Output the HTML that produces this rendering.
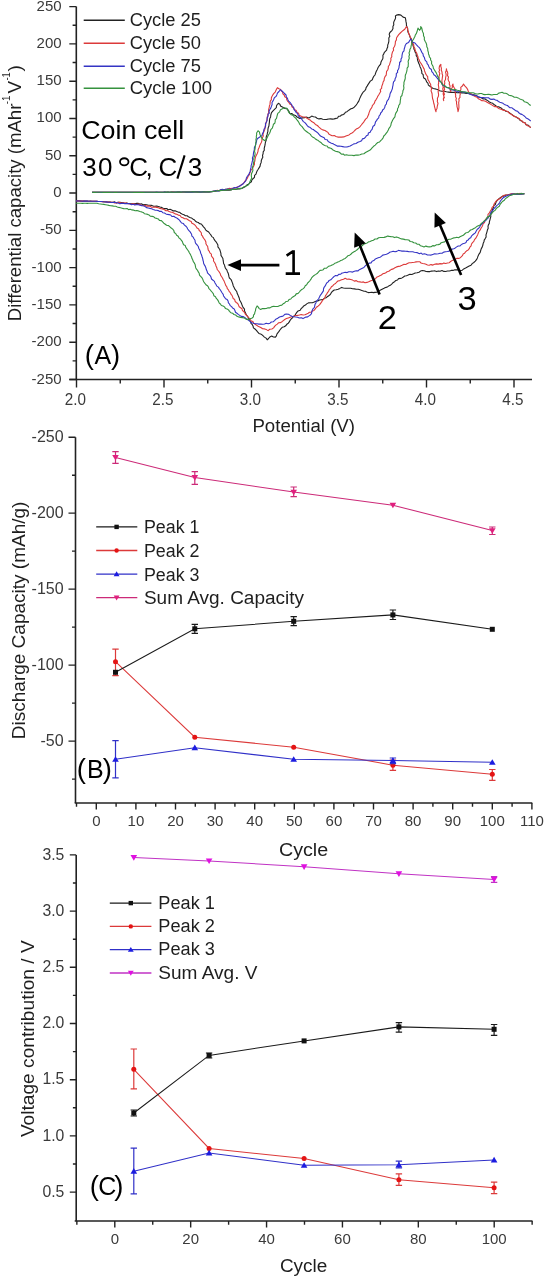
<!DOCTYPE html>
<html><head><meta charset="utf-8"><style>
html,body{margin:0;padding:0;background:#fff;}
svg{display:block;will-change:transform;}
text{font-family:"Liberation Sans", sans-serif;}
.tk{font-size:15px;fill:#3a3a3a;}
.lb{font-size:18px;fill:#1e1e1e;}
.lg{font-size:17.6px;fill:#1e1e1e;}
.cal{fill:#000;}
</style></head><body>
<svg width="545" height="1280" viewBox="0 0 545 1280">
<rect width="545" height="1280" fill="#fff"/>
<path d="M76.3,6.6 V379.5" stroke="#222" stroke-width="1.6" fill="none"/>
<path d="M69.3,379.5 H532" stroke="#222" stroke-width="1.6" fill="none"/>
<path d="M69.3,6.60H76.3M72.6,25.25H76.3M69.3,43.89H76.3M72.6,62.53H76.3M69.3,81.18H76.3M72.6,99.83H76.3M69.3,118.47H76.3M72.6,137.12H76.3M69.3,155.76H76.3M72.6,174.41H76.3M69.3,193.05H76.3M72.6,211.70H76.3M69.3,230.34H76.3M72.6,248.99H76.3M69.3,267.63H76.3M72.6,286.28H76.3M69.3,304.92H76.3M72.6,323.57H76.3M69.3,342.21H76.3M72.6,360.86H76.3M69.3,379.50H76.3M76.50,379.5V387.5M120.25,379.5V383.5M164.00,379.5V387.5M207.75,379.5V383.5M251.50,379.5V387.5M295.25,379.5V383.5M339.00,379.5V387.5M382.75,379.5V383.5M426.50,379.5V387.5M470.25,379.5V383.5M514.00,379.5V387.5" stroke="#222" stroke-width="1.4" fill="none"/>
<text x="61.6" y="10.60" text-anchor="end" class="tk">250</text>
<text x="61.6" y="47.89" text-anchor="end" class="tk">200</text>
<text x="61.6" y="85.18" text-anchor="end" class="tk">150</text>
<text x="61.6" y="122.47" text-anchor="end" class="tk">100</text>
<text x="61.6" y="159.76" text-anchor="end" class="tk">50</text>
<text x="61.6" y="197.05" text-anchor="end" class="tk">0</text>
<text x="61.6" y="234.34" text-anchor="end" class="tk">-50</text>
<text x="61.6" y="271.63" text-anchor="end" class="tk">-100</text>
<text x="61.6" y="308.92" text-anchor="end" class="tk">-150</text>
<text x="61.6" y="346.21" text-anchor="end" class="tk">-200</text>
<text x="61.6" y="383.50" text-anchor="end" class="tk">-250</text>
<text x="75.40" y="404.7" text-anchor="middle" class="tk" style="font-size:15.6px" textLength="21.2" lengthAdjust="spacingAndGlyphs">2.0</text>
<text x="162.90" y="404.7" text-anchor="middle" class="tk" style="font-size:15.6px" textLength="21.2" lengthAdjust="spacingAndGlyphs">2.5</text>
<text x="250.40" y="404.7" text-anchor="middle" class="tk" style="font-size:15.6px" textLength="21.2" lengthAdjust="spacingAndGlyphs">3.0</text>
<text x="337.90" y="404.7" text-anchor="middle" class="tk" style="font-size:15.6px" textLength="21.2" lengthAdjust="spacingAndGlyphs">3.5</text>
<text x="425.40" y="404.7" text-anchor="middle" class="tk" style="font-size:15.6px" textLength="21.2" lengthAdjust="spacingAndGlyphs">4.0</text>
<text x="512.90" y="404.7" text-anchor="middle" class="tk" style="font-size:15.6px" textLength="21.2" lengthAdjust="spacingAndGlyphs">4.5</text>
<text x="252.4" y="432" class="lb" textLength="102.6" lengthAdjust="spacingAndGlyphs">Potential (V)</text>
<text transform="translate(20.9,321.2) rotate(-90)" class="lb" style="font-size:19px" textLength="217.6" lengthAdjust="spacingAndGlyphs">Differential capacity (mAhr</text>
<text transform="translate(10.2,104.2) rotate(-90)" class="lb" style="font-size:10.5px" textLength="8.6" lengthAdjust="spacingAndGlyphs">-1</text>
<text transform="translate(20.9,93.6) rotate(-90)" class="lb" style="font-size:19px" textLength="12.6" lengthAdjust="spacingAndGlyphs">V</text>
<text transform="translate(10.2,80.6) rotate(-90)" class="lb" style="font-size:10.5px" textLength="8.2" lengthAdjust="spacingAndGlyphs">-1</text>
<text transform="translate(20.9,71.4) rotate(-90)" class="lb" style="font-size:19px" textLength="6.4" lengthAdjust="spacingAndGlyphs">)</text>
<polyline points="76.0,200.9 77.6,200.9 79.2,200.9 80.8,201.1 82.4,201.0 84.0,201.1 85.6,201.1 87.2,201.1 88.8,201.2 90.4,201.1 92.0,201.3 93.6,201.2 95.2,201.3 96.8,201.4 98.4,201.5 100.0,201.5 101.6,201.5 103.3,201.6 104.9,201.8 106.5,202.0 108.1,202.0 109.8,202.1 111.4,202.3 113.0,202.3 114.7,201.9 116.4,202.9 118.1,202.4 119.8,202.4 121.5,202.5 123.2,202.8 124.9,203.5 126.6,202.9 128.3,203.5 130.0,203.5 131.7,203.7 133.3,203.5 135.0,203.8 136.7,203.4 138.4,203.4 140.0,204.0 141.7,203.9 143.3,204.7 145.0,204.6 146.7,204.7 148.3,205.2 150.0,205.3 151.7,205.4 153.3,206.1 154.9,206.3 156.7,206.0 158.3,206.5 160.0,207.0 161.6,207.4 163.2,208.3 164.9,208.6 166.7,208.5 168.2,209.7 170.1,209.3 171.7,210.0 173.3,210.9 175.1,210.7 176.7,211.5 178.2,212.1 179.8,212.3 181.0,213.6 182.5,214.3 184.0,214.8 185.4,215.7 187.1,215.8 188.4,216.8 189.9,217.4 191.4,217.9 192.7,218.9 194.2,219.7 195.3,221.0 196.6,222.0 198.3,222.5 199.5,223.6 201.3,224.0 202.4,225.3 203.5,226.8 204.7,228.1 205.6,229.8 207.0,231.0 208.7,232.0 209.7,233.5 210.9,234.9 211.8,236.6 213.4,237.6 214.1,239.4 215.2,240.9 216.3,242.2 217.1,243.6 217.9,245.1 217.9,246.9 218.9,248.2 219.9,249.8 220.4,251.6 220.9,253.4 221.0,255.4 222.0,257.0 222.9,258.5 223.1,260.2 223.4,261.8 223.6,263.5 224.5,265.0 224.9,266.8 225.5,268.4 226.8,269.8 227.3,271.4 228.1,273.0 228.6,274.7 228.9,276.4 229.4,278.0 230.9,279.3 231.6,280.8 232.2,282.4 232.8,284.0 233.2,285.7 234.0,287.3 234.7,288.9 235.8,290.3 236.8,291.7 237.2,293.5 238.0,295.1 238.7,296.7 239.3,298.3 239.6,300.0 240.5,301.5 241.3,303.0 241.9,304.6 242.5,306.2 243.3,307.7 244.5,309.1 244.5,311.0 245.4,312.6 246.1,314.2 246.9,315.7 248.1,317.1 248.8,318.7 249.7,320.2 250.7,321.6 251.0,323.4 252.3,324.6 253.1,326.2 253.4,327.9 255.0,329.0 256.4,330.4 257.6,331.9 258.9,333.4 260.5,333.9 262.0,334.8 263.2,335.9 264.4,337.1 266.1,338.1 267.2,339.8 268.6,338.5 269.9,336.9 271.7,336.1 273.4,337.0 275.4,337.1 276.4,335.8 276.9,334.1 278.0,332.7 279.0,331.4 279.9,330.0 281.0,328.7 282.2,327.3 284.2,326.8 285.7,325.8 286.8,324.3 288.3,323.2 289.3,321.9 290.1,320.3 291.1,319.0 292.4,317.8 293.4,316.5 294.9,315.5 295.7,314.0 296.8,312.4 298.1,310.9 300.2,310.2 301.2,308.5 302.6,307.4 303.7,305.9 305.4,305.1 306.7,303.9 308.4,302.9 310.4,302.8 312.4,302.8 314.2,302.1 315.9,301.2 317.8,301.0 319.5,300.0 321.3,299.7 323.2,299.4 324.4,298.2 326.1,297.8 327.3,296.7 328.7,295.7 330.3,294.5 331.3,292.7 332.6,291.2 334.2,290.0 336.2,289.7 338.1,289.2 339.9,288.4 341.6,287.4 343.4,288.0 345.2,288.2 347.0,288.3 348.9,288.3 350.8,288.3 352.5,288.8 354.4,288.9 356.2,289.3 358.2,289.2 360.0,289.7 361.8,290.4 363.6,291.1 365.3,291.2 366.8,292.0 368.3,292.6 370.0,292.5 371.7,292.2 373.4,292.6 375.0,292.4 376.7,292.2 378.3,291.5 379.7,290.6 381.1,289.8 382.6,289.0 384.0,288.3 385.5,287.5 387.1,287.1 388.6,286.1 390.3,285.3 391.7,284.1 393.0,282.7 394.5,281.7 395.9,280.5 397.5,280.0 398.6,278.6 400.4,278.4 402.0,277.9 403.4,277.0 404.7,276.0 406.5,275.8 408.2,275.1 409.9,274.3 411.8,274.5 413.5,273.8 415.2,273.0 417.1,272.8 419.0,272.3 420.5,271.1 422.3,270.5 424.2,270.7 426.1,271.5 428.0,271.6 430.0,271.6 431.6,271.1 433.3,271.0 435.0,270.9 436.7,271.6 438.3,271.0 440.1,271.3 442.0,270.6 443.8,271.4 445.7,271.5 447.5,271.0 449.4,271.0 451.2,270.4 453.0,270.4 454.8,269.7 456.7,269.9 458.5,269.8 460.0,270.7 462.1,270.3 463.7,268.9 465.6,268.1 467.4,267.1 469.2,266.1 471.0,265.3 472.2,263.6 473.8,262.5 475.3,261.2 476.5,259.7 477.4,257.9 478.1,255.9 479.0,254.1 480.2,252.4 480.7,250.5 481.3,248.6 482.3,246.9 482.9,245.0 483.2,243.3 484.0,241.8 484.2,240.1 485.2,238.6 486.1,236.9 486.0,234.9 486.6,233.1 487.1,231.3 487.5,229.7 488.2,228.2 488.0,226.5 488.4,224.9 489.3,223.4 489.4,221.7 489.9,220.0 490.3,218.4 490.8,216.6 490.7,214.6 491.7,212.9 492.2,211.0 492.6,209.1 493.5,207.4 493.8,205.6 495.3,204.5 495.8,202.8 496.9,200.8 498.5,199.2 500.3,197.8 502.2,196.4 504.1,195.9 505.9,195.0 508.0,194.8 510.0,194.4 512.0,194.0 514.0,194.0 515.7,194.0 517.5,194.0 519.2,194.2 520.9,193.4 522.7,193.8 524.4,193.7" stroke="#222" stroke-width="1.1" fill="none" stroke-linejoin="round"/>
<polyline points="76.0,200.9 77.6,200.9 79.2,200.9 80.8,201.1 82.4,201.1 84.0,201.1 85.6,201.2 87.2,201.3 88.8,201.2 90.4,201.3 92.0,201.3 93.6,201.3 95.2,201.4 96.8,201.4 98.4,201.5 100.0,201.5 101.6,201.6 103.2,201.8 104.9,201.8 106.5,202.0 108.1,202.1 109.8,202.0 111.4,202.2 113.0,202.3 114.6,202.9 116.3,203.0 118.1,202.3 119.8,202.5 121.4,203.0 123.2,202.7 124.8,203.0 126.5,203.0 128.2,203.8 129.8,204.0 131.5,204.3 133.3,203.6 134.9,204.4 136.6,204.5 138.3,204.1 140.0,204.6 141.6,205.3 143.2,205.7 145.0,205.2 146.6,206.3 148.3,205.9 150.0,206.3 151.6,207.2 153.2,207.3 155.0,206.9 156.6,207.4 158.3,207.8 159.8,208.4 161.4,208.7 163.0,209.1 164.5,209.8 165.9,210.7 167.7,210.6 169.0,211.6 170.6,212.1 172.3,212.2 173.7,213.0 175.1,213.9 176.7,214.3 178.3,215.1 180.1,215.5 181.3,217.2 183.0,217.8 184.5,218.8 186.5,218.7 188.0,219.7 189.5,220.7 191.2,221.5 191.9,223.3 193.6,224.0 195.0,225.1 196.1,226.5 197.1,228.1 198.7,228.9 199.2,230.5 200.5,231.7 201.4,233.0 201.4,234.9 202.6,236.2 203.2,237.7 204.2,239.0 205.2,240.4 205.9,241.9 205.9,243.7 206.7,245.1 207.7,246.5 207.9,248.2 208.2,249.9 209.3,251.3 209.9,252.9 211.4,254.1 211.4,256.0 212.5,257.4 213.6,258.9 213.5,261.0 214.6,262.5 215.5,264.2 216.0,266.0 216.8,267.7 217.2,269.5 218.5,271.0 219.5,272.4 220.3,273.8 220.7,275.4 221.7,276.8 222.6,278.2 223.3,279.7 224.1,281.1 224.7,282.6 225.3,284.1 225.9,285.7 226.9,287.0 227.3,288.7 228.5,289.9 229.1,291.4 230.3,292.6 230.9,294.1 232.0,295.4 232.6,296.9 233.2,298.5 234.7,299.5 235.1,301.3 236.3,302.5 237.7,303.5 238.5,305.1 239.2,306.7 240.6,307.7 242.0,308.7 242.4,310.5 243.8,311.6 244.8,313.0 245.5,314.5 246.9,315.5 247.9,316.9 249.1,318.1 250.2,319.5 251.2,320.9 252.9,321.6 253.7,323.2 255.2,324.2 256.6,325.3 258.1,326.2 259.7,326.9 261.2,327.7 262.6,328.8 264.6,328.9 266.4,329.6 268.1,330.6 269.7,329.3 271.9,329.0 273.6,327.9 274.6,326.4 275.8,325.1 277.3,324.1 278.5,322.8 280.5,322.6 282.0,321.7 283.3,320.6 284.7,319.5 286.4,318.6 288.3,317.9 290.1,317.3 292.0,316.8 293.8,316.3 295.6,315.5 297.5,315.4 299.4,315.0 301.2,314.5 303.1,315.0 304.9,314.8 306.7,314.0 308.2,313.3 309.5,312.3 311.3,312.3 312.4,310.9 314.0,310.4 315.3,308.9 316.4,307.3 318.0,306.2 319.5,304.9 320.6,303.4 321.7,301.9 322.5,300.3 323.9,299.0 325.0,297.5 325.5,295.7 326.6,294.3 327.4,292.7 328.6,291.3 329.2,289.6 330.6,288.3 331.4,286.7 332.9,285.7 334.0,284.4 335.5,283.5 336.7,282.2 337.9,281.0 339.8,280.6 341.6,279.8 343.5,279.2 345.2,278.3 347.0,279.2 348.9,279.1 350.8,279.5 352.6,280.1 354.3,281.1 356.3,280.6 358.0,281.7 359.9,281.9 361.6,282.3 363.4,281.9 365.0,282.7 366.9,282.4 368.7,281.8 370.3,280.9 372.1,280.3 373.8,279.4 375.5,278.8 376.6,277.2 378.3,276.6 379.7,275.7 381.4,275.0 382.7,273.8 384.3,273.4 385.8,272.7 387.1,271.7 388.8,271.3 390.1,270.3 391.5,269.4 393.3,268.9 394.9,267.8 396.6,266.9 398.4,266.4 400.3,266.1 402.0,265.3 403.7,264.4 405.7,264.5 407.4,263.5 409.1,262.8 410.9,262.7 412.6,262.5 414.4,262.3 416.1,261.9 417.9,261.7 419.7,261.7 421.0,263.0 422.7,263.5 424.4,263.8 426.0,264.3 427.5,265.0 429.2,265.3 431.0,264.6 432.9,265.1 434.6,264.3 436.4,263.9 438.3,264.1 440.1,263.6 442.0,263.9 443.8,263.1 445.7,263.5 447.5,263.0 449.3,262.7 450.6,261.5 452.0,260.6 453.6,259.9 455.3,259.3 456.7,258.4 458.4,258.4 460.0,257.9 461.2,256.8 462.4,255.7 463.1,254.1 464.6,253.3 465.5,251.9 466.7,250.8 468.2,250.0 469.2,248.7 469.9,247.1 471.1,245.8 471.5,244.0 472.5,242.6 473.8,241.4 474.5,239.6 475.8,238.2 476.7,236.5 477.6,234.9 478.3,233.1 479.0,231.4 480.2,229.9 481.0,228.3 482.0,226.7 482.7,225.2 483.1,223.6 484.6,222.5 484.7,220.7 485.7,219.4 487.1,218.0 488.0,216.4 488.0,214.3 489.4,212.9 490.3,211.0 491.5,209.4 492.1,207.4 493.5,206.1 493.9,204.3 494.9,202.8 495.9,201.4 497.1,200.2 498.5,199.2 500.6,198.2 502.2,196.4 503.9,195.4 505.9,195.0 508.0,194.8 510.0,194.4 512.0,193.8 514.0,194.0 515.7,194.0 517.5,194.4 519.2,193.4 520.9,194.2 522.7,193.8 524.4,193.7" stroke="#dc3a3a" stroke-width="1.1" fill="none" stroke-linejoin="round"/>
<polyline points="76.0,200.9 77.6,201.0 79.2,201.0 80.8,201.0 82.4,201.2 84.0,201.1 85.6,201.0 87.2,201.1 88.8,201.2 90.4,201.2 92.0,201.3 93.6,201.3 95.2,201.3 96.8,201.4 98.4,201.5 100.0,201.5 101.6,201.5 103.2,201.8 104.9,202.0 106.5,201.9 108.1,202.2 109.7,202.3 111.4,202.5 113.0,202.5 114.7,202.4 116.4,202.7 118.1,202.9 119.7,203.7 121.4,203.4 123.1,203.3 124.8,203.6 126.5,203.6 128.2,203.5 129.9,203.7 131.5,204.7 133.3,204.2 134.9,205.1 136.7,204.5 138.3,204.7 140.0,205.1 141.7,205.6 143.4,205.8 145.0,206.5 146.5,207.6 148.2,208.0 149.9,208.4 151.6,208.7 153.2,209.5 154.8,210.1 156.6,210.2 158.3,210.6 159.7,211.4 161.5,211.4 162.8,212.7 164.5,213.0 165.9,213.9 167.4,214.4 169.1,214.6 170.7,215.0 171.9,216.5 173.8,216.3 175.2,217.3 176.7,217.9 178.1,219.0 179.5,220.1 180.5,221.7 181.6,223.0 183.4,223.6 184.5,225.1 185.9,226.2 187.0,227.5 187.7,229.0 188.7,230.3 189.9,231.5 190.8,232.9 191.6,234.3 191.9,236.1 193.2,237.2 194.0,238.8 195.0,240.2 195.2,242.1 195.9,243.7 197.2,245.0 198.3,246.5 198.7,248.2 199.6,249.8 200.3,251.4 200.7,253.2 201.5,254.8 202.0,256.5 202.6,258.2 202.9,260.0 203.4,261.6 203.6,263.3 204.4,264.9 205.3,266.4 205.9,268.0 206.3,269.6 207.1,271.2 207.5,272.8 208.7,274.2 210.1,275.5 211.0,277.1 211.5,279.0 213.0,280.2 214.4,281.4 215.0,283.0 216.0,284.5 216.8,286.1 218.4,287.1 219.3,288.6 220.4,290.0 221.3,291.5 222.2,293.0 223.2,294.3 223.6,296.0 224.6,297.3 225.5,298.7 227.2,299.6 228.1,301.0 228.4,302.8 229.5,304.0 230.2,305.6 231.6,306.6 232.6,308.0 234.2,308.9 234.9,310.5 235.5,312.2 236.9,313.2 238.2,314.4 239.7,315.4 241.2,316.4 243.1,316.6 244.7,317.4 246.0,318.7 247.7,319.3 248.9,320.6 250.3,321.6 251.7,322.8 253.4,323.3 255.2,323.7 257.1,323.8 258.9,324.1 260.8,324.0 262.6,324.2 264.5,324.0 266.2,323.2 268.2,323.8 270.0,323.2 271.3,322.0 273.2,321.8 274.5,320.6 275.7,319.3 277.3,318.6 278.7,317.5 280.2,316.8 282.0,316.4 283.5,315.7 284.8,314.4 286.5,314.0 288.5,314.3 290.2,315.4 292.0,316.2 293.9,316.8 295.7,317.0 297.6,317.2 299.3,318.0 301.3,317.7 303.0,318.6 304.4,317.7 305.9,317.1 307.7,316.9 309.0,315.9 310.4,315.0 311.5,313.7 311.8,312.0 312.2,310.4 312.9,308.9 314.3,307.7 314.7,306.1 315.0,304.4 315.9,303.0 316.4,301.2 317.7,300.0 318.8,298.5 319.5,296.9 320.3,295.3 321.4,293.9 322.4,292.4 323.4,290.9 323.5,289.0 324.1,287.3 325.2,285.9 326.0,284.3 326.9,282.8 328.2,281.9 329.1,280.4 330.8,279.8 331.9,278.7 333.0,277.5 334.2,276.4 335.6,275.5 337.5,275.7 338.7,274.4 340.5,274.3 341.8,273.1 343.4,272.8 345.2,272.2 347.1,272.6 348.8,271.8 350.7,271.8 352.6,272.1 354.4,271.3 356.2,270.8 358.1,270.9 359.3,269.7 360.8,268.9 362.3,268.2 363.9,267.5 365.0,266.1 366.3,264.9 367.9,264.2 369.2,263.1 371.1,262.9 372.1,261.2 373.8,260.6 375.0,259.3 376.5,258.4 378.2,257.8 380.0,257.3 381.4,256.4 382.7,255.1 384.5,254.7 386.4,254.3 388.1,253.6 389.7,252.3 391.5,251.8 393.2,251.2 395.1,251.8 396.8,251.4 398.5,250.4 400.3,250.7 402.0,251.1 403.8,251.0 405.6,251.2 407.4,251.4 409.1,251.8 410.9,251.7 412.7,251.7 414.4,252.2 416.2,252.5 417.9,252.9 419.4,253.7 421.2,253.1 422.6,254.3 424.4,253.8 426.0,254.2 427.5,255.0 429.2,255.0 431.1,255.1 432.8,254.4 434.6,253.8 436.5,254.0 438.3,253.8 440.1,253.2 442.1,253.3 443.7,252.1 445.6,251.8 447.5,251.5 449.2,251.1 450.3,249.5 452.1,249.1 453.8,248.7 455.3,247.9 456.7,246.9 458.2,246.0 460.0,246.0 461.3,244.6 462.8,243.7 464.6,243.2 466.1,242.4 466.7,240.7 468.2,239.9 469.2,238.6 470.7,237.8 471.4,236.2 472.5,235.0 473.8,234.0 475.3,232.9 476.1,231.3 477.0,229.7 478.3,228.5 479.6,227.3 480.4,225.6 481.6,224.2 482.9,223.0 483.8,221.4 485.6,220.8 486.6,219.4 487.9,218.3 488.6,216.7 489.8,215.5 490.3,213.9 491.2,211.7 493.0,210.2 494.0,208.5 495.4,207.1 496.7,205.6 498.3,204.4 499.6,202.8 500.4,201.0 501.5,199.7 502.6,198.3 504.0,197.3 505.5,196.5 507.1,195.8 508.6,195.0 510.5,195.1 512.1,194.0 514.0,194.0 515.7,194.3 517.5,194.2 519.2,194.2 520.9,194.1 522.7,193.9 524.4,193.7" stroke="#3434c4" stroke-width="1.1" fill="none" stroke-linejoin="round"/>
<polyline points="76.0,203.3 77.6,203.3 79.2,203.3 80.8,203.3 82.5,203.4 84.1,203.2 85.7,203.2 87.3,203.4 88.9,203.2 90.5,203.2 92.2,203.2 93.8,203.3 95.4,203.3 97.0,203.3 98.7,203.7 100.4,204.0 102.1,204.3 103.8,204.4 105.5,204.7 107.2,205.0 108.9,205.4 110.6,205.7 112.3,205.9 114.0,206.3 115.7,206.3 117.3,206.9 118.8,207.4 120.5,207.8 122.1,208.2 123.7,208.6 125.3,208.8 127.1,208.5 128.6,209.6 130.3,209.3 131.9,209.9 133.5,210.1 135.1,210.8 136.8,210.5 138.4,210.9 140.0,211.5 141.6,211.9 143.2,212.4 144.4,213.7 146.1,214.0 147.7,214.4 149.2,215.1 150.5,216.3 152.2,216.4 153.8,216.8 155.1,218.0 156.7,218.4 158.3,218.9 159.4,220.4 161.4,220.6 162.6,221.9 163.8,223.2 165.3,224.3 166.6,225.3 168.6,225.6 169.9,226.8 171.2,228.0 172.7,229.1 173.8,230.5 174.3,232.5 175.7,233.6 176.6,235.2 178.2,236.2 178.9,237.9 180.4,239.0 181.4,240.3 182.4,241.6 182.9,243.3 183.6,244.8 185.3,245.6 185.8,247.3 186.7,248.7 187.7,250.0 188.7,251.3 189.3,252.8 190.2,254.1 190.9,255.6 191.6,257.0 192.0,258.6 192.8,260.0 193.3,261.6 194.3,262.9 195.1,264.4 195.4,266.1 195.7,267.7 196.5,269.2 197.6,270.4 198.3,271.9 199.2,273.3 199.5,275.1 200.6,276.3 201.8,277.5 202.6,278.9 203.2,280.5 203.9,282.0 204.9,283.3 205.9,284.7 207.4,285.7 208.4,287.0 208.9,288.7 210.2,289.8 211.2,291.2 212.4,292.5 213.4,293.9 213.9,295.8 215.5,296.8 216.3,298.4 217.5,299.6 218.4,301.1 219.1,302.8 220.4,304.0 221.4,305.5 223.1,306.0 224.5,306.9 225.4,308.4 227.1,309.0 228.5,309.9 229.5,311.4 230.8,312.7 232.6,313.2 233.9,314.5 235.7,315.0 237.0,316.3 238.7,316.9 240.6,317.4 242.5,317.6 244.4,318.0 246.0,319.1 247.9,319.6 249.8,318.8 251.8,318.2 253.4,316.9 253.5,315.2 254.6,313.8 254.9,312.1 255.5,310.6 255.7,308.9 256.3,307.4 257.1,305.9 258.3,307.1 259.2,308.6 260.7,309.5 262.4,308.6 264.4,308.6 266.3,308.5 268.1,307.7 270.0,307.9 271.7,306.8 273.5,306.4 275.4,306.5 277.8,306.5 280.0,305.5 281.8,305.1 283.1,303.8 284.7,303.0 285.9,301.5 287.9,301.2 289.0,299.6 290.8,299.0 292.0,297.5 293.6,296.5 295.2,295.6 296.2,293.9 298.1,293.4 299.4,292.0 300.4,290.6 301.8,289.5 303.3,288.6 304.5,287.4 305.2,285.7 306.7,284.7 307.5,283.2 308.7,282.0 309.8,280.8 310.8,279.4 311.6,277.9 312.7,276.6 314.0,275.5 315.8,274.4 317.5,273.2 318.8,271.6 320.0,270.4 321.8,270.2 323.3,269.7 324.4,268.2 326.3,268.3 327.6,267.2 328.9,266.1 330.6,265.8 332.0,265.0 333.5,264.4 334.8,263.3 336.4,262.8 337.8,262.0 339.4,261.4 340.8,260.5 342.3,260.0 343.7,259.1 345.2,258.4 346.6,257.2 347.8,255.8 349.7,255.2 351.1,254.0 352.4,252.7 354.0,251.8 355.6,250.9 357.1,249.8 358.4,248.5 359.7,247.1 361.3,246.3 362.8,245.2 364.1,244.1 365.6,243.4 367.2,242.9 368.5,241.9 370.1,241.5 371.6,240.8 373.4,240.2 375.0,239.0 377.0,239.0 378.6,237.7 380.5,237.5 382.3,237.5 384.1,237.4 385.8,236.9 387.5,236.1 389.3,236.4 391.1,236.6 392.8,236.7 394.5,237.6 396.4,236.9 398.1,237.5 399.8,238.3 401.5,238.9 403.3,239.1 405.1,239.6 406.9,239.7 408.8,240.0 410.2,241.5 412.2,241.7 413.8,242.8 415.7,243.0 417.1,244.2 419.2,244.3 420.5,245.8 422.3,246.3 424.0,246.9 425.8,246.1 427.5,246.6 429.2,246.9 431.1,246.7 432.7,245.6 434.8,245.9 436.4,244.8 438.3,244.6 440.0,244.1 441.2,242.7 442.9,242.3 444.6,241.9 445.8,240.5 447.5,240.0 449.0,239.3 450.6,239.2 452.1,238.6 453.6,237.9 455.2,237.7 456.8,237.2 458.6,237.7 460.0,236.8 461.6,236.0 463.3,235.3 464.6,234.0 465.9,232.8 467.8,232.5 469.2,231.3 470.5,230.0 472.3,229.5 473.8,228.5 475.4,227.7 476.7,226.6 478.3,225.8 480.1,224.9 481.4,223.4 482.9,222.1 484.2,220.9 485.7,219.9 486.6,218.4 487.5,216.9 489.4,216.4 490.3,214.8 491.6,213.7 492.6,212.3 493.9,211.1 495.4,210.1 496.2,208.5 497.6,207.4 499.3,206.2 500.1,204.4 501.3,202.8 502.4,201.5 504.0,200.6 505.0,199.2 506.8,197.7 508.6,196.4 510.2,195.4 512.0,195.0 514.0,194.0 515.7,194.2 517.5,193.4 519.2,194.2 520.9,193.5 522.7,193.9 524.4,193.7" stroke="#35923e" stroke-width="1.1" fill="none" stroke-linejoin="round"/>
<polyline points="92.0,192.3 93.6,192.4 95.2,192.3 96.8,192.3 98.4,192.3 100.1,192.2 101.7,192.2 103.3,192.2 104.9,192.3 106.5,192.3 108.1,192.3 109.7,192.4 111.3,192.2 112.9,192.2 114.6,192.3 116.2,192.2 117.8,192.2 119.4,192.3 121.0,192.2 122.6,192.3 124.2,192.2 125.8,192.3 127.4,192.3 129.1,192.2 130.7,192.3 132.3,192.3 133.9,192.2 135.5,192.4 137.1,192.2 138.7,192.2 140.3,192.2 141.9,192.3 143.6,192.4 145.2,192.4 146.8,192.3 148.4,192.2 150.0,192.3 151.6,192.2 153.3,192.3 154.9,192.3 156.6,192.2 158.2,192.3 159.8,192.2 161.5,192.3 163.1,192.3 164.7,192.1 166.4,192.3 168.0,192.1 169.7,192.2 171.3,192.1 172.9,192.1 174.6,192.0 176.2,192.2 177.9,192.0 179.5,192.1 181.1,192.2 182.8,192.0 184.4,192.0 186.1,192.1 187.7,192.0 189.3,192.1 191.0,192.1 192.6,191.9 194.2,192.0 195.9,191.9 197.5,191.9 199.2,192.1 200.8,192.0 202.4,192.0 204.1,191.8 205.7,192.0 207.4,192.0 209.0,191.9 210.7,191.7 212.3,191.6 214.0,191.3 215.7,191.1 217.3,190.5 219.0,190.5 220.6,190.1 222.3,190.2 224.0,190.2 225.7,190.3 227.4,190.1 229.2,190.1 230.9,189.9 232.6,189.2 234.3,189.4 236.0,189.2 237.9,188.9 239.8,189.0 241.7,188.5 243.6,187.5 245.5,186.5 246.8,185.1 248.5,184.2 249.9,182.9 251.4,181.7 251.9,179.8 253.2,178.5 254.5,177.3 254.6,175.3 256.0,174.1 256.5,172.4 257.2,170.7 258.2,169.2 259.2,167.6 260.1,166.1 260.4,164.2 261.2,162.4 261.3,160.5 262.0,158.7 262.8,157.2 262.5,155.4 263.1,153.8 263.2,151.9 264.3,150.2 264.2,148.3 264.7,146.5 265.1,144.7 265.3,142.8 265.8,141.2 266.4,139.6 266.1,137.9 266.4,136.3 267.1,134.7 267.4,133.0 267.9,131.4 267.9,129.7 268.2,127.8 268.9,126.0 269.1,124.2 269.4,122.3 269.5,120.4 269.8,118.6 270.6,116.9 270.8,115.0 271.5,112.7 273.0,110.8 275.0,108.8 276.3,107.7 276.5,105.8 277.3,104.4 278.7,103.3 280.0,104.4 280.5,106.0 283.3,107.4 284.9,108.5 286.9,108.8 288.0,110.2 289.1,111.6 289.7,113.3 291.7,113.5 293.3,114.7 295.4,115.4 297.0,117.0 299.8,118.4 302.5,117.9 304.4,117.7 306.2,117.0 309.0,117.9 310.4,117.1 311.7,116.1 313.5,116.8 315.4,117.0 317.1,118.2 319.0,118.9 320.9,118.6 322.7,119.3 325.0,119.5 326.8,119.4 328.7,119.0 330.5,118.9 332.4,119.1 334.2,118.9 336.0,118.4 337.6,117.9 338.5,116.3 340.3,116.2 341.5,115.0 343.1,114.6 344.5,113.8 345.4,112.2 347.0,111.7 348.2,110.6 349.5,109.7 350.9,108.8 352.5,108.4 354.2,107.2 355.7,105.7 356.9,104.0 357.9,102.4 358.9,100.9 359.5,99.1 360.2,97.4 361.1,95.6 362.0,93.9 363.1,92.2 364.6,90.8 365.7,89.4 366.1,87.6 367.1,86.1 368.0,84.6 369.0,83.1 370.3,81.1 372.3,79.8 372.9,78.0 373.7,76.4 375.0,75.0 375.6,73.2 376.3,71.2 377.3,69.4 378.1,67.5 379.2,65.8 380.6,64.2 381.0,62.1 381.9,60.3 382.8,58.8 383.0,57.1 382.9,55.3 383.8,53.9 384.4,52.3 386.6,50.1 387.0,48.4 387.7,46.9 387.7,45.1 388.3,43.5 388.8,41.7 388.9,39.8 388.8,38.0 389.8,36.2 389.2,34.3 389.9,32.5 392.1,30.3 393.0,28.6 392.9,26.5 393.8,24.8 393.6,22.9 394.1,21.2 395.0,19.6 395.6,17.9 395.4,16.0 396.5,15.1 398.7,14.6 400.9,15.1 403.1,17.1 405.3,17.7 405.7,19.7 406.0,21.7 406.4,23.7 406.4,25.4 407.0,27.0 407.7,28.8 407.7,30.7 408.1,32.5 409.1,34.1 409.7,35.8 410.2,37.6 411.4,39.1 412.1,40.7 411.7,42.5 412.8,44.0 413.0,45.7 413.8,47.3 413.9,49.1 414.7,50.6 415.2,52.3 416.2,53.8 416.2,55.6 417.3,57.1 417.4,58.9 417.7,60.5 418.3,62.0 418.8,63.6 419.6,65.0 420.0,66.7 420.8,68.2 421.3,69.9 421.8,71.5 421.8,73.3 423.2,74.6 423.3,76.4 423.8,78.0 425.4,78.9 426.1,80.4 426.6,81.9 427.9,83.2 428.4,85.1 429.9,86.3 431.5,87.4 433.2,88.5 435.4,88.9 437.6,89.6 439.6,90.8 442.0,91.3 444.2,91.3 446.4,91.8 448.6,92.1 450.8,92.4 453.0,92.4 455.2,92.4 457.4,92.7 459.6,92.4 461.8,92.9 464.0,92.9 466.2,93.4 468.4,93.5 470.6,93.9 472.8,94.6 474.7,95.1 476.5,95.6 478.1,97.0 480.0,97.3 481.6,98.1 483.2,98.9 485.1,99.0 486.6,100.0 488.1,100.9 489.4,102.1 491.0,102.8 492.7,103.3 494.0,104.5 495.5,105.5 496.8,106.6 498.6,106.7 500.1,107.4 501.5,108.3 502.7,109.4 504.3,110.0 505.6,111.2 507.4,111.5 508.9,112.4 510.3,113.4 511.7,114.4 513.1,115.5 514.6,116.4 516.2,117.0 517.6,118.1 519.1,118.9 520.2,120.5 521.9,121.0 523.2,122.3 525.1,122.8 526.0,124.7 528.0,125.0 529.3,126.4 530.7,127.6" stroke="#222" stroke-width="1.1" fill="none" stroke-linejoin="round"/>
<polyline points="92.0,192.3 93.6,192.4 95.2,192.4 96.8,192.4 98.4,192.3 100.1,192.2 101.7,192.3 103.3,192.2 104.9,192.2 106.5,192.3 108.1,192.2 109.7,192.3 111.3,192.4 112.9,192.3 114.6,192.3 116.2,192.3 117.8,192.3 119.4,192.2 121.0,192.3 122.6,192.3 124.2,192.4 125.8,192.4 127.4,192.3 129.1,192.3 130.7,192.4 132.3,192.3 133.9,192.2 135.5,192.4 137.1,192.4 138.7,192.4 140.3,192.3 141.9,192.4 143.6,192.3 145.2,192.3 146.8,192.3 148.4,192.3 150.0,192.3 151.6,192.3 153.3,192.2 154.9,192.2 156.6,192.3 158.2,192.3 159.8,192.3 161.5,192.2 163.1,192.2 164.7,192.2 166.4,192.2 168.0,192.2 169.7,192.2 171.3,192.3 172.9,192.1 174.6,192.2 176.2,192.2 177.9,192.1 179.5,192.1 181.1,192.2 182.8,192.0 184.4,192.1 186.1,192.0 187.7,192.1 189.3,192.1 191.0,192.0 192.6,191.9 194.3,192.0 195.9,192.0 197.5,192.0 199.2,192.0 200.8,192.0 202.4,192.0 204.1,191.9 205.7,191.9 207.4,192.0 209.0,191.9 210.7,191.6 212.3,191.5 214.0,191.1 215.7,191.2 217.3,190.3 219.1,191.0 220.6,190.0 222.3,189.5 224.0,189.7 225.6,189.2 227.4,189.0 229.0,188.4 230.7,188.5 232.4,188.3 234.1,188.3 235.8,187.8 237.8,186.8 240.0,186.0 241.5,184.6 243.3,183.7 244.5,181.7 246.1,180.0 247.4,178.1 248.3,176.0 249.5,174.7 249.8,173.0 250.5,171.5 251.1,169.8 252.3,168.5 253.8,165.9 254.5,164.3 254.4,162.5 254.9,160.9 255.1,158.8 255.6,156.8 256.5,154.9 257.4,153.2 258.0,151.3 258.2,149.4 259.1,147.5 259.8,145.5 260.6,143.8 261.5,142.2 261.9,140.6 261.9,139.0 262.5,137.5 263.3,136.0 263.0,134.2 263.5,132.6 264.1,131.0 264.7,129.5 265.2,127.8 265.2,126.1 265.7,124.5 266.0,122.5 266.8,120.6 267.2,118.7 267.1,117.0 268.1,115.6 267.9,113.9 268.7,112.4 268.6,110.8 268.7,109.2 269.2,107.6 269.4,106.0 270.0,104.4 270.1,102.8 270.3,101.1 271.4,99.7 271.3,98.0 271.9,96.5 272.8,94.9 273.9,93.4 275.2,92.1 275.9,90.6 276.6,89.1 277.4,87.7 279.0,88.7 280.7,89.4 281.4,90.9 282.6,92.1 282.9,93.8 284.2,95.0 284.8,96.7 286.5,97.7 286.7,99.6 287.5,101.1 288.8,102.3 289.7,103.9 291.4,104.8 291.9,106.7 293.3,107.8 294.4,109.4 296.2,110.5 297.0,112.4 298.6,113.3 299.1,115.2 300.7,116.1 302.5,116.7 304.4,117.0 306.3,117.7 308.0,118.9 310.1,119.9 311.7,121.6 313.8,122.7 315.4,124.4 317.4,125.5 319.0,127.1 320.7,128.7 322.7,129.9 325.0,130.5 326.5,131.5 328.0,132.4 328.8,134.1 330.5,134.9 332.2,135.7 334.3,135.6 336.0,136.5 337.8,137.1 339.7,137.0 341.5,137.1 343.8,136.9 345.9,136.0 347.4,135.4 349.0,134.9 350.3,133.8 352.0,133.0 353.5,131.9 354.7,130.5 356.2,129.1 358.0,128.3 359.8,126.8 361.3,125.0 362.4,123.6 363.7,122.2 364.6,120.6 365.6,119.1 367.1,117.8 367.9,116.1 368.6,114.6 369.0,112.9 369.6,111.4 370.2,109.8 371.2,108.4 372.0,107.0 372.4,105.4 373.6,104.3 374.5,102.9 375.0,101.1 376.1,99.6 377.0,97.9 377.8,96.3 378.8,94.7 379.8,93.0 380.7,91.5 380.2,89.7 381.6,88.4 381.7,86.7 382.2,85.2 382.8,83.6 383.1,82.0 384.1,80.4 384.3,78.4 385.0,76.7 386.2,75.1 386.4,73.2 386.6,71.4 387.7,70.0 388.3,68.3 388.3,66.5 389.4,65.0 389.9,63.4 390.4,61.7 391.0,60.1 390.8,58.3 391.8,56.8 391.7,55.1 392.1,53.4 392.6,51.7 393.6,50.2 393.3,48.3 394.3,46.8 395.0,45.1 395.3,43.3 395.4,41.5 396.4,39.9 396.5,38.0 397.5,36.3 398.7,34.7 400.3,33.0 402.0,31.4 403.4,30.3 404.8,29.2 406.4,26.5 407.5,28.1 407.6,30.0 408.5,31.7 408.6,33.6 409.5,35.2 410.3,36.9 411.1,38.5 411.6,40.2 412.0,42.0 413.0,43.5 413.8,45.1 413.8,46.9 414.8,48.4 415.2,50.1 415.9,51.8 416.8,53.3 417.3,55.1 418.0,56.7 418.2,58.5 419.2,59.9 419.7,61.6 420.7,63.0 421.7,64.4 422.6,66.0 423.3,67.6 424.2,69.1 424.5,70.7 425.1,72.3 425.7,73.9 426.6,75.3 427.7,76.6 427.7,78.5 428.2,80.1 429.2,81.5 429.9,83.0 430.7,84.5 430.7,86.1 431.4,87.6 431.5,89.2 431.0,90.9 431.7,92.5 432.1,94.0 432.2,95.6 432.4,97.2 432.6,98.8 433.2,100.3 433.5,101.9 433.8,103.5 434.3,105.0 434.5,106.7 435.0,108.4 435.4,110.1 436.0,111.7 436.1,110.0 437.0,108.4 437.2,106.7 437.6,105.0 438.0,103.3 437.3,101.6 437.5,99.9 437.4,98.2 438.3,96.6 438.6,94.9 438.4,93.2 438.1,91.5 438.7,89.8 438.8,88.1 438.6,86.4 438.3,84.7 438.7,83.0 438.6,81.4 438.8,79.8 438.8,78.2 439.0,76.6 439.4,75.0 439.8,73.4 438.9,71.8 439.6,70.2 439.1,68.6 439.3,67.0 439.8,65.4 440.9,64.3 440.8,66.3 441.4,68.2 441.3,70.1 442.0,72.0 442.1,73.7 442.7,75.4 442.4,77.1 442.2,78.8 441.9,80.5 442.0,82.2 442.6,83.8 442.8,85.5 443.2,87.2 442.7,88.9 443.2,90.6 443.4,92.3 443.1,94.0 443.8,95.6 443.9,97.3 443.3,99.0 443.7,100.6 443.4,99.0 444.4,97.4 443.5,95.8 444.5,94.2 443.8,92.6 443.8,91.0 444.6,89.4 444.2,87.8 444.9,86.2 444.4,84.6 444.8,83.0 444.5,81.2 445.5,79.5 445.6,77.7 446.0,75.9 446.1,74.1 445.5,72.2 446.3,70.5 446.4,68.7 446.7,70.4 447.5,72.0 447.8,73.7 447.5,75.5 448.5,77.1 448.0,79.0 448.5,80.7 449.5,82.3 449.2,84.1 450.1,85.9 449.8,88.0 450.1,89.9 450.8,91.8 450.8,90.1 451.5,88.7 452.4,87.2 452.2,85.5 453.0,84.1 453.1,85.7 453.9,87.2 454.8,88.6 454.9,90.2 455.2,91.8 455.3,93.5 455.7,95.1 455.6,96.8 456.4,98.4 455.9,100.1 456.6,101.7 456.5,103.4 456.9,105.0 457.0,106.7 457.5,108.3 457.8,110.0 458.0,111.7 458.5,109.9 458.9,108.0 458.9,106.2 458.8,104.3 458.7,102.4 459.1,100.6 458.8,98.9 460.0,97.4 459.9,95.7 460.3,94.0 459.9,92.3 460.4,90.7 461.0,89.1 460.7,87.4 462.4,86.0 463.5,84.1 464.8,85.8 466.2,87.4 467.2,88.7 467.9,90.1 468.3,91.7 469.5,92.9 471.2,93.9 472.8,95.1 474.2,96.0 475.7,96.7 477.2,97.3 478.3,98.7 480.0,99.5 481.6,100.6 483.6,100.8 485.5,101.3 487.1,102.3 488.8,103.3 490.3,104.0 491.7,104.9 493.1,105.8 494.5,106.6 496.4,106.5 497.7,107.7 499.3,108.7 501.1,109.3 502.8,110.1 504.7,110.4 506.5,111.0 508.1,111.7 509.2,113.2 510.7,114.1 512.3,114.9 513.6,116.1 515.3,116.6 517.0,117.6 518.9,118.4 520.2,119.9 521.9,121.0 523.2,122.4 525.0,122.9 526.1,124.5 527.5,125.8 529.4,126.3 530.7,127.6" stroke="#dc3a3a" stroke-width="1.1" fill="none" stroke-linejoin="round"/>
<polyline points="92.0,192.3 93.6,192.3 95.2,192.3 96.8,192.3 98.4,192.2 100.1,192.2 101.7,192.4 103.3,192.4 104.9,192.3 106.5,192.2 108.1,192.4 109.7,192.4 111.3,192.2 112.9,192.3 114.6,192.4 116.2,192.4 117.8,192.3 119.4,192.3 121.0,192.3 122.6,192.2 124.2,192.2 125.8,192.2 127.4,192.3 129.1,192.3 130.7,192.3 132.3,192.3 133.9,192.3 135.5,192.2 137.1,192.2 138.7,192.4 140.3,192.3 141.9,192.2 143.6,192.3 145.2,192.4 146.8,192.2 148.4,192.3 150.0,192.3 151.6,192.3 153.3,192.3 154.9,192.2 156.6,192.1 158.2,192.4 159.8,192.3 161.5,192.2 163.1,192.2 164.7,192.1 166.4,192.3 168.0,192.2 169.7,192.3 171.3,192.2 172.9,192.2 174.6,192.2 176.2,192.1 177.9,192.0 179.5,192.0 181.1,192.0 182.8,192.0 184.4,192.0 186.1,192.1 187.7,192.1 189.3,192.0 191.0,192.1 192.6,192.1 194.2,191.9 195.9,192.0 197.5,192.0 199.2,191.9 200.8,192.1 202.4,191.9 204.1,191.9 205.7,192.0 207.4,192.0 209.0,191.9 210.7,191.7 212.3,191.4 214.0,191.2 215.6,190.6 217.4,191.2 219.1,191.0 220.6,189.9 222.3,189.4 224.0,189.7 225.6,189.2 227.3,189.0 229.1,189.3 230.8,189.1 232.5,188.7 234.0,187.6 235.8,187.8 238.0,187.0 240.0,185.7 241.8,184.8 243.3,183.5 244.4,182.3 245.6,181.2 246.1,179.6 246.4,177.9 247.2,176.5 248.3,175.2 249.3,173.3 250.2,171.4 250.5,169.2 251.1,167.4 251.1,165.6 251.8,163.8 252.1,162.0 252.7,160.1 252.4,157.9 253.2,156.0 253.4,153.9 253.7,151.9 254.3,149.9 254.4,147.6 255.4,145.5 255.9,143.6 256.5,141.7 256.7,140.0 257.6,138.5 259.8,137.0 262.0,135.6 262.5,133.6 263.5,131.9 263.9,129.6 265.0,127.5 265.7,125.8 265.4,123.9 266.4,122.3 267.1,120.4 267.1,118.3 267.9,116.5 267.9,114.7 269.3,113.2 269.0,111.3 269.7,109.7 270.8,108.1 271.4,106.3 272.1,104.6 272.0,102.5 273.0,100.9 273.8,99.3 274.4,97.6 276.0,96.5 276.8,94.9 277.4,93.2 279.0,91.5 280.3,89.7 281.6,90.8 282.9,91.8 284.0,93.0 286.0,95.0 286.4,96.7 287.4,98.2 288.0,99.9 288.8,101.4 290.3,102.7 291.4,104.3 292.4,106.0 293.7,107.4 294.0,109.3 295.1,110.8 296.1,112.4 297.6,113.7 298.2,115.7 299.8,117.0 301.2,118.4 302.3,120.0 303.4,121.6 304.9,122.6 306.0,123.9 307.1,125.3 308.4,126.8 310.3,127.6 311.7,128.9 313.4,129.5 314.8,130.8 316.3,131.7 317.8,132.9 319.0,134.4 320.5,136.0 322.5,136.9 324.2,137.7 325.1,139.5 327.2,139.8 328.2,141.6 329.9,142.4 331.3,143.3 333.0,143.6 334.3,144.6 335.8,145.2 337.2,146.1 339.1,146.1 340.9,146.2 342.7,146.6 344.5,147.0 346.5,147.0 348.3,146.6 350.2,146.0 351.9,145.1 353.8,143.9 356.0,143.5 357.9,142.3 360.0,141.5 361.6,140.7 362.4,138.9 364.3,138.4 365.5,137.1 366.4,135.7 368.1,134.9 368.4,132.9 370.2,132.2 370.9,130.6 372.1,129.4 372.5,127.8 373.1,126.2 374.6,125.2 375.1,123.5 375.5,121.9 376.5,120.6 377.4,119.1 378.7,117.9 379.0,116.0 380.2,114.7 380.7,113.0 382.0,111.7 382.6,110.0 384.0,108.8 384.8,107.2 385.2,105.4 386.4,104.0 386.6,102.3 387.3,100.7 388.5,99.4 389.0,97.8 389.7,96.3 389.9,94.7 390.3,93.1 391.2,91.6 391.8,90.1 392.4,88.5 392.6,86.9 393.0,85.3 393.2,83.5 393.6,81.8 394.9,80.4 395.1,78.7 396.0,77.1 396.3,75.4 396.3,73.7 397.6,72.4 397.5,70.6 398.5,69.2 399.0,67.7 399.1,66.0 399.6,64.4 399.6,62.5 401.0,61.0 401.0,59.1 401.9,57.5 402.0,55.6 402.3,53.9 402.8,52.2 404.0,50.8 404.2,49.0 404.8,47.1 405.3,45.2 406.4,43.5 408.6,42.4 409.6,40.7 410.8,39.1 411.8,40.8 413.0,42.4 415.0,43.0 416.3,44.6 417.9,46.3 419.6,47.9 420.4,49.3 421.1,50.8 421.8,52.3 423.0,53.8 423.3,55.9 424.4,57.5 424.8,59.2 425.5,60.7 426.8,61.9 427.1,63.6 428.2,64.9 428.8,66.5 429.7,68.3 431.4,69.5 431.8,71.7 433.2,73.1 433.9,74.8 435.4,75.8 436.5,77.2 437.6,78.6 438.7,80.0 439.8,81.4 441.3,82.4 442.0,84.1 443.2,85.6 445.1,86.1 446.4,87.4 448.0,87.8 449.5,88.5 450.8,89.6 453.1,89.9 455.2,90.7 457.3,91.6 459.6,91.8 461.9,91.6 464.0,92.4 466.3,92.5 468.4,93.5 470.5,94.5 472.8,95.1 474.7,95.3 476.6,95.7 478.2,96.9 480.0,97.3 481.6,97.5 483.3,97.6 484.9,97.9 486.6,97.8 488.5,97.8 490.1,99.1 491.9,99.4 493.8,99.1 495.5,100.0 497.2,100.4 498.4,101.5 499.9,102.2 501.5,102.7 503.0,103.3 504.3,104.4 505.8,105.0 507.4,105.5 508.7,106.7 510.0,107.7 511.8,107.7 513.1,108.8 514.5,109.8 515.9,110.9 517.7,111.3 518.8,112.8 520.2,113.9 521.9,114.4 523.4,115.4 524.9,116.5 526.1,118.0 527.7,118.8 529.3,119.8 530.7,121.0" stroke="#3434c4" stroke-width="1.1" fill="none" stroke-linejoin="round"/>
<polyline points="92.0,192.3 93.6,192.4 95.2,192.4 96.8,192.3 98.4,192.2 100.1,192.3 101.7,192.3 103.3,192.4 104.9,192.4 106.5,192.4 108.1,192.4 109.7,192.4 111.3,192.2 112.9,192.3 114.6,192.4 116.2,192.4 117.8,192.2 119.4,192.3 121.0,192.3 122.6,192.3 124.2,192.3 125.8,192.2 127.4,192.3 129.1,192.3 130.7,192.2 132.3,192.2 133.9,192.4 135.5,192.4 137.1,192.4 138.7,192.3 140.3,192.4 141.9,192.4 143.6,192.4 145.2,192.2 146.8,192.3 148.4,192.2 150.0,192.3 151.6,192.3 153.3,192.2 154.9,192.3 156.6,192.4 158.2,192.3 159.8,192.2 161.5,192.2 163.1,192.2 164.8,192.3 166.4,192.1 168.0,192.1 169.7,192.2 171.3,192.1 172.9,192.2 174.6,192.2 176.2,192.1 177.9,192.1 179.5,192.1 181.1,192.1 182.8,192.0 184.4,192.0 186.1,192.0 187.7,192.0 189.3,192.0 191.0,192.0 192.6,191.9 194.2,191.9 195.9,192.0 197.5,192.1 199.2,192.0 200.8,192.0 202.4,192.0 204.1,191.9 205.7,192.0 207.4,191.9 209.0,191.9 210.7,191.7 212.3,191.5 214.0,191.3 215.7,191.1 217.3,190.7 219.0,190.5 220.7,190.6 222.3,190.3 224.0,190.2 225.7,190.2 227.4,189.4 229.1,189.6 230.9,190.0 232.5,189.2 234.3,189.4 236.0,189.2 238.0,188.8 240.0,188.4 241.7,188.4 243.5,187.1 245.5,186.2 247.8,185.3 249.4,183.5 250.0,181.5 251.0,179.6 251.6,177.8 251.3,175.7 251.5,173.8 252.3,172.0 252.9,170.5 252.7,168.8 252.5,167.1 253.1,165.6 253.5,164.0 253.6,162.4 254.2,160.8 253.7,159.1 254.0,157.6 254.5,156.0 255.1,154.4 255.0,152.8 254.5,151.2 254.9,149.6 255.2,148.0 255.2,146.3 255.7,144.6 255.7,142.9 256.1,141.2 255.9,139.5 256.4,137.9 256.3,136.3 256.7,134.7 256.6,133.0 258.0,130.8 259.4,131.9 259.9,134.2 260.9,136.3 261.6,137.9 262.8,139.2 265.0,140.7 266.8,138.5 267.7,136.6 268.6,134.8 269.6,133.2 270.3,131.5 270.8,129.7 272.3,128.1 273.0,126.0 273.4,124.3 274.8,123.2 275.2,121.6 275.2,119.8 276.5,118.4 276.9,116.6 277.3,115.0 277.8,113.3 279.6,111.8 280.5,109.7 282.4,108.8 284.2,107.8 286.9,108.3 287.9,109.9 288.5,111.8 289.7,113.3 291.3,114.8 293.3,115.6 294.4,117.1 295.9,118.3 297.0,119.8 298.0,121.1 298.9,122.5 299.6,124.1 300.7,125.3 302.1,126.7 303.3,128.3 304.4,129.9 306.1,131.2 307.8,132.5 309.1,133.4 310.4,134.4 311.3,135.8 312.5,136.9 314.0,137.7 315.2,138.7 316.7,139.8 318.3,140.6 319.7,141.8 321.3,142.8 322.5,144.2 323.9,145.0 325.4,145.8 327.1,146.0 328.2,147.6 329.9,147.9 331.4,148.5 332.6,149.7 334.1,150.5 335.5,151.3 337.2,151.6 338.8,152.0 340.2,153.0 341.4,154.2 343.3,154.0 344.5,155.2 346.4,154.7 348.2,155.3 350.0,155.2 351.9,155.2 354.0,155.6 356.0,155.0 358.0,155.1 360.0,154.7 361.8,154.0 363.9,153.7 365.5,152.5 366.9,151.7 368.3,150.9 369.7,150.2 371.0,149.2 372.3,147.7 373.6,146.3 375.2,145.1 376.5,143.7 377.8,142.5 379.6,141.9 380.7,140.6 382.0,139.3 383.1,137.8 383.8,136.0 385.2,134.6 386.3,133.1 387.5,131.6 388.3,130.0 389.0,128.3 390.1,126.8 390.9,125.2 391.2,123.3 391.9,121.7 392.7,120.0 393.7,118.4 394.9,116.9 395.2,115.0 395.7,113.4 396.6,111.9 397.5,110.5 397.5,108.7 398.5,107.3 398.7,105.5 399.9,103.9 400.2,102.1 400.3,100.3 400.7,98.5 400.7,96.8 402.0,95.5 402.2,93.9 402.8,92.4 402.9,90.8 403.7,89.2 403.9,87.6 403.6,85.8 404.0,84.2 403.9,82.6 404.4,81.0 405.0,79.5 405.3,77.9 405.2,76.3 405.5,74.7 406.2,73.2 406.7,71.6 407.0,69.9 407.1,68.2 408.2,66.7 408.2,65.0 408.4,63.3 408.1,61.5 408.7,59.8 409.3,58.1 408.9,56.4 409.5,54.7 409.0,52.9 409.7,51.2 409.9,49.4 410.9,47.8 411.1,45.9 411.6,44.2 411.9,42.4 412.3,40.8 413.4,39.5 414.1,38.0 414.9,36.6 415.3,35.0 416.3,33.6 417.0,31.8 417.5,29.9 418.0,28.1 419.6,30.3 420.7,28.6 420.7,26.5 421.8,28.1 422.1,30.0 422.7,31.9 423.5,33.8 423.5,35.8 424.4,37.5 424.3,39.5 425.1,41.3 426.1,43.0 426.7,44.8 426.8,46.8 427.7,48.5 427.8,50.5 428.4,52.3 428.5,53.9 429.2,55.4 429.4,57.0 430.6,58.3 430.6,60.0 431.7,61.5 431.5,63.4 432.3,65.0 433.1,66.5 433.4,68.3 434.3,69.8 435.3,71.4 436.3,72.9 437.0,74.6 437.6,76.4 438.9,77.7 439.0,79.7 440.2,81.1 441.3,82.5 442.0,84.1 443.5,85.2 445.0,86.2 446.4,87.4 448.8,87.8 450.8,89.1 453.0,89.8 455.2,89.6 457.4,90.2 459.6,90.7 461.7,91.7 464.0,91.8 465.8,92.1 467.6,92.7 469.5,92.9 471.4,92.8 473.2,92.8 475.0,93.5 476.7,94.0 478.3,93.9 480.0,93.5 481.7,93.5 483.2,94.4 484.9,94.6 486.6,94.5 488.4,94.3 490.2,94.6 491.9,95.0 493.7,94.5 495.5,94.5 497.3,94.4 498.7,93.1 500.4,92.7 502.1,92.3 503.8,93.2 505.7,93.3 507.5,94.1 509.0,95.3 510.9,95.6 512.7,96.2 514.3,97.2 516.3,97.3 518.1,97.9 519.7,98.9 521.4,99.6 523.2,100.2 524.4,101.8 526.3,102.2 527.9,103.1 529.2,104.5 530.7,105.5" stroke="#35923e" stroke-width="1.1" fill="none" stroke-linejoin="round"/>
<path d="M83.7,20.3H124.8" stroke="#222" stroke-width="1.5"/>
<text x="129.7" y="25.9" class="lg" textLength="71.2" lengthAdjust="spacingAndGlyphs">Cycle 25</text>
<path d="M83.7,43.3H124.8" stroke="#dc3a3a" stroke-width="1.5"/>
<text x="129.7" y="48.9" class="lg" textLength="71.2" lengthAdjust="spacingAndGlyphs">Cycle 50</text>
<path d="M83.7,66.3H124.8" stroke="#3434c4" stroke-width="1.5"/>
<text x="129.7" y="71.9" class="lg" textLength="71.2" lengthAdjust="spacingAndGlyphs">Cycle 75</text>
<path d="M83.7,88.3H124.8" stroke="#35923e" stroke-width="1.5"/>
<text x="129.7" y="93.9" class="lg" textLength="82.3" lengthAdjust="spacingAndGlyphs">Cycle 100</text>
<text x="81.2" y="139" class="cal" font-size="25.5" textLength="103" lengthAdjust="spacingAndGlyphs">Coin cell</text>
<text x="89.4" y="175.5" class="cal" font-size="26" text-anchor="middle">3</text>
<text x="105.2" y="175.5" class="cal" font-size="26" text-anchor="middle">0</text>
<text x="138.6" y="175.5" class="cal" font-size="26" text-anchor="middle">C</text>
<text x="149.2" y="175.5" class="cal" font-size="26" text-anchor="middle">,</text>
<text x="167.8" y="175.5" class="cal" font-size="26" text-anchor="middle">C</text>
<text x="194.9" y="175.5" class="cal" font-size="26" text-anchor="middle">3</text>
<path d="M177.4,178.6L184.6,155.4" stroke="#000" stroke-width="2.1"/>
<ellipse cx="124.25" cy="161.8" rx="4.25" ry="3.55" stroke="#000" stroke-width="1.8" fill="none"/>
<text x="89.4" y="364.1" class="cal" font-size="27.5" text-anchor="middle">(</text>
<text x="102.75" y="364.1" class="cal" font-size="25" text-anchor="middle">A</text>
<text x="115.6" y="364.1" class="cal" font-size="27.5" text-anchor="middle">)</text>
<path d="M279.4,265.1H236" stroke="#000" stroke-width="2.6"/>
<path d="M227.4,265.1L241,259.3L241,271.1Z" fill="#000"/>
<path d="M293.6,250.2V273.6M285.7,273.6H300M293,251.4L286.6,255.6" stroke="#000" stroke-width="2.6" fill="none"/>
<path d="M379.6,294.5L359.17,243.64" stroke="#000" stroke-width="2.6"/>
<path d="M354.7,232.5L365.67,243.18L354.16,247.80Z" fill="#000"/>
<path d="M461.1,274.9L439.38,223.55" stroke="#000" stroke-width="2.6"/>
<path d="M434.7,212.5L445.86,222.98L434.44,227.81Z" fill="#000"/>
<text x="377.8" y="329.4" class="cal" font-size="34" textLength="19.2" lengthAdjust="spacingAndGlyphs">2</text>
<text x="457.6" y="310.1" class="cal" font-size="34" textLength="19.2" lengthAdjust="spacingAndGlyphs">3</text>
<path d="M75.5,437.2 V803" stroke="#222" stroke-width="1.6" fill="none"/>
<path d="M74.7,803 H532.3" stroke="#222" stroke-width="1.6" fill="none"/>
<path d="M68.5,437.20H75.5M72,475.19H75.5M68.5,513.17H75.5M72,551.16H75.5M68.5,589.15H75.5M72,627.14H75.5M68.5,665.12H75.5M72,703.11H75.5M68.5,741.10H75.5M72,779.09H75.5M76.50,803V806.8M96.30,803V809.5M116.10,803V806.8M135.90,803V809.5M155.70,803V806.8M175.50,803V809.5M195.30,803V806.8M215.10,803V809.5M234.90,803V806.8M254.70,803V809.5M274.50,803V806.8M294.30,803V809.5M314.10,803V806.8M333.90,803V809.5M353.70,803V806.8M373.50,803V809.5M393.30,803V806.8M413.10,803V809.5M432.90,803V806.8M452.70,803V809.5M472.50,803V806.8M492.30,803V809.5M512.10,803V806.8M531.90,803V809.5" stroke="#222" stroke-width="1.4" fill="none"/>
<text x="63.6" y="442.00" text-anchor="end" class="tk" style="font-size:16px">-250</text>
<text x="63.6" y="517.97" text-anchor="end" class="tk" style="font-size:16px">-200</text>
<text x="63.6" y="593.95" text-anchor="end" class="tk" style="font-size:16px">-150</text>
<text x="63.6" y="669.92" text-anchor="end" class="tk" style="font-size:16px">-100</text>
<text x="63.6" y="745.90" text-anchor="end" class="tk" style="font-size:16px">-50</text>
<text x="96.30" y="826" text-anchor="middle" class="tk">0</text>
<text x="135.90" y="826" text-anchor="middle" class="tk">10</text>
<text x="175.50" y="826" text-anchor="middle" class="tk">20</text>
<text x="215.10" y="826" text-anchor="middle" class="tk">30</text>
<text x="254.70" y="826" text-anchor="middle" class="tk">40</text>
<text x="294.30" y="826" text-anchor="middle" class="tk">50</text>
<text x="333.90" y="826" text-anchor="middle" class="tk">60</text>
<text x="373.50" y="826" text-anchor="middle" class="tk">70</text>
<text x="413.10" y="826" text-anchor="middle" class="tk">80</text>
<text x="452.70" y="826" text-anchor="middle" class="tk">90</text>
<text x="492.30" y="826" text-anchor="middle" class="tk">100</text>
<text x="531.90" y="826" text-anchor="middle" class="tk">110</text>
<text x="278.9" y="855.6" class="lb" textLength="49.3" lengthAdjust="spacingAndGlyphs">Cycle</text>
<text transform="translate(24.7,739.2) rotate(-90)" class="lb" textLength="237.6" lengthAdjust="spacingAndGlyphs">Discharge Capacity (mAh/g)</text>
<text x="81.35" y="778" class="cal" font-size="27.5" text-anchor="middle">(</text>
<text x="95.3" y="778" class="cal" font-size="25" text-anchor="middle">B</text>
<text x="107.4" y="778" class="cal" font-size="27.5" text-anchor="middle">)</text>
<polyline points="115.5,661.7 194.8,737.2 293.7,747.2 392.9,765.2 492.3,774.2" stroke="#dc3a3a" stroke-width="1.05" fill="none"/>
<path d="M112.30,649.20H118.70M115.50,649.20V675.60M112.30,675.60H118.70" stroke="#dc3a3a" stroke-width="1.2" fill="none"/>
<circle cx="115.50" cy="661.70" r="2.50" fill="#e41414"/>
<circle cx="194.80" cy="737.20" r="2.50" fill="#e41414"/>
<circle cx="293.70" cy="747.20" r="2.50" fill="#e41414"/>
<path d="M389.70,760.00H396.10M392.90,760.00V770.30M389.70,770.30H396.10" stroke="#dc3a3a" stroke-width="1.2" fill="none"/>
<circle cx="392.90" cy="765.20" r="2.50" fill="#e41414"/>
<path d="M489.10,769.50H495.50M492.30,769.50V780.30M489.10,780.30H495.50" stroke="#dc3a3a" stroke-width="1.2" fill="none"/>
<circle cx="492.30" cy="774.20" r="2.50" fill="#e41414"/>
<polyline points="115.5,759.3 194.8,747.7 293.7,759.3 392.9,760.5 492.3,762.3" stroke="#3030c8" stroke-width="1.05" fill="none"/>
<path d="M112.30,740.60H118.70M115.50,740.60V777.80M112.30,777.80H118.70" stroke="#3030c8" stroke-width="1.2" fill="none"/>
<path d="M115.50,756.14L118.81,761.74L112.19,761.74Z" fill="#1c1ce0"/>
<path d="M194.80,744.54L198.11,750.14L191.49,750.14Z" fill="#1c1ce0"/>
<path d="M293.70,756.14L297.01,761.74L290.39,761.74Z" fill="#1c1ce0"/>
<path d="M389.70,758.00H396.10M392.90,758.00V763.60M389.70,763.60H396.10" stroke="#3030c8" stroke-width="1.2" fill="none"/>
<path d="M392.90,757.34L396.21,762.94L389.59,762.94Z" fill="#1c1ce0"/>
<path d="M492.30,759.14L495.61,764.74L488.99,764.74Z" fill="#1c1ce0"/>
<polyline points="115.5,457.4 194.8,477.5 293.7,492.1 392.9,505.2 492.3,530.6" stroke="#cc2a78" stroke-width="1.05" fill="none"/>
<path d="M112.30,451.70H118.70M115.50,451.70V463.30M112.30,463.30H118.70" stroke="#cc2a78" stroke-width="1.2" fill="none"/>
<path d="M115.50,460.56L118.81,454.96L112.19,454.96Z" fill="#e0207e"/>
<path d="M191.60,471.60H198.00M194.80,471.60V484.40M191.60,484.40H198.00" stroke="#cc2a78" stroke-width="1.2" fill="none"/>
<path d="M194.80,480.66L198.11,475.06L191.49,475.06Z" fill="#e0207e"/>
<path d="M290.50,487.00H296.90M293.70,487.00V496.70M290.50,496.70H296.90" stroke="#cc2a78" stroke-width="1.2" fill="none"/>
<path d="M293.70,495.26L297.01,489.66L290.39,489.66Z" fill="#e0207e"/>
<path d="M392.90,508.36L396.21,502.76L389.59,502.76Z" fill="#e0207e"/>
<path d="M489.10,527.00H495.50M492.30,527.00V534.50M489.10,534.50H495.50" stroke="#cc2a78" stroke-width="1.2" fill="none"/>
<path d="M492.30,533.76L495.61,528.16L488.99,528.16Z" fill="#e0207e"/>
<polyline points="115.5,672.3 194.8,628.8 293.7,621.3 392.9,614.9 492.3,629.3" stroke="#1a1a1a" stroke-width="1.05" fill="none"/>
<rect x="113.00" y="669.80" width="5.00" height="5.00" fill="#111"/>
<path d="M191.60,624.40H198.00M194.80,624.40V633.40M191.60,633.40H198.00" stroke="#1a1a1a" stroke-width="1.2" fill="none"/>
<rect x="192.30" y="626.30" width="5.00" height="5.00" fill="#111"/>
<path d="M290.50,616.70H296.90M293.70,616.70V625.70M290.50,625.70H296.90" stroke="#1a1a1a" stroke-width="1.2" fill="none"/>
<rect x="291.20" y="618.80" width="5.00" height="5.00" fill="#111"/>
<path d="M389.70,610.00H396.10M392.90,610.00V619.50M389.70,619.50H396.10" stroke="#1a1a1a" stroke-width="1.2" fill="none"/>
<rect x="390.40" y="612.40" width="5.00" height="5.00" fill="#111"/>
<rect x="489.80" y="626.80" width="5.00" height="5.00" fill="#111"/>
<path d="M96.2,526.9H137.3" stroke="#1a1a1a" stroke-width="1.3"/>
<rect x="114.40" y="524.70" width="4.40" height="4.40" fill="#111"/>
<text x="143.9" y="533.3" class="lg" textLength="55.6" lengthAdjust="spacingAndGlyphs">Peak 1</text>
<path d="M96.2,550.5H137.3" stroke="#dc3a3a" stroke-width="1.3"/>
<circle cx="116.60" cy="550.50" r="2.20" fill="#e41414"/>
<text x="143.9" y="556.9" class="lg" textLength="55.6" lengthAdjust="spacingAndGlyphs">Peak 2</text>
<path d="M96.2,574.1H137.3" stroke="#3030c8" stroke-width="1.3"/>
<path d="M116.60,571.32L119.51,576.25L113.69,576.25Z" fill="#1c1ce0"/>
<text x="143.9" y="580.5" class="lg" textLength="55.6" lengthAdjust="spacingAndGlyphs">Peak 3</text>
<path d="M96.2,597.7H137.3" stroke="#cc2a78" stroke-width="1.3"/>
<path d="M116.60,600.48L119.51,595.55L113.69,595.55Z" fill="#e0207e"/>
<text x="143.9" y="604.1" class="lg" textLength="160.2" lengthAdjust="spacingAndGlyphs">Sum Avg. Capacity</text>
<path d="M76.2,854.9 V1221" stroke="#222" stroke-width="1.6" fill="none"/>
<path d="M74.7,1221 H532.5" stroke="#222" stroke-width="1.6" fill="none"/>
<path d="M69.8,854.90H76.2M72.9,883.00H76.2M69.8,911.10H76.2M72.9,939.20H76.2M69.8,967.30H76.2M72.9,995.40H76.2M69.8,1023.50H76.2M72.9,1051.60H76.2M69.8,1079.70H76.2M72.9,1107.80H76.2M69.8,1135.90H76.2M72.9,1164.00H76.2M69.8,1192.10H76.2M76.86,1221V1224.8M114.80,1221V1227.5M152.74,1221V1224.8M190.68,1221V1227.5M228.62,1221V1224.8M266.56,1221V1227.5M304.50,1221V1224.8M342.44,1221V1227.5M380.38,1221V1224.8M418.32,1221V1227.5M456.26,1221V1224.8M494.20,1221V1227.5M532.14,1221V1224.8" stroke="#222" stroke-width="1.4" fill="none"/>
<text x="64.3" y="859.50" text-anchor="end" class="tk" style="font-size:16px" textLength="21.9" lengthAdjust="spacingAndGlyphs">3.5</text>
<text x="64.3" y="915.70" text-anchor="end" class="tk" style="font-size:16px" textLength="21.9" lengthAdjust="spacingAndGlyphs">3.0</text>
<text x="64.3" y="971.90" text-anchor="end" class="tk" style="font-size:16px" textLength="21.9" lengthAdjust="spacingAndGlyphs">2.5</text>
<text x="64.3" y="1028.10" text-anchor="end" class="tk" style="font-size:16px" textLength="21.9" lengthAdjust="spacingAndGlyphs">2.0</text>
<text x="64.3" y="1084.30" text-anchor="end" class="tk" style="font-size:16px" textLength="21.9" lengthAdjust="spacingAndGlyphs">1.5</text>
<text x="64.3" y="1140.50" text-anchor="end" class="tk" style="font-size:16px" textLength="21.9" lengthAdjust="spacingAndGlyphs">1.0</text>
<text x="64.3" y="1196.70" text-anchor="end" class="tk" style="font-size:16px" textLength="21.9" lengthAdjust="spacingAndGlyphs">0.5</text>
<text x="114.80" y="1244" text-anchor="middle" class="tk">0</text>
<text x="190.68" y="1244" text-anchor="middle" class="tk">20</text>
<text x="266.56" y="1244" text-anchor="middle" class="tk">40</text>
<text x="342.44" y="1244" text-anchor="middle" class="tk">60</text>
<text x="418.32" y="1244" text-anchor="middle" class="tk">80</text>
<text x="494.20" y="1244" text-anchor="middle" class="tk">100</text>
<text x="279.9" y="1272.1" class="lb" textLength="47.4" lengthAdjust="spacingAndGlyphs">Cycle</text>
<text transform="translate(33.6,1137.1) rotate(-90)" class="lb" textLength="196.8" lengthAdjust="spacingAndGlyphs">Voltage contribution / V</text>
<text x="94.3" y="1195.4" class="cal" font-size="27.5" text-anchor="middle">(</text>
<text x="107.3" y="1195.4" class="cal" font-size="25" text-anchor="middle">C</text>
<text x="118.85" y="1195.4" class="cal" font-size="27.5" text-anchor="middle">)</text>
<polyline points="133.8,1069.3 209.1,1148.4 304.1,1158.6 398.9,1179.8 494.1,1187.7" stroke="#dc3a3a" stroke-width="1.05" fill="none"/>
<path d="M130.60,1049.00H137.00M133.80,1049.00V1088.80M130.60,1088.80H137.00" stroke="#dc3a3a" stroke-width="1.2" fill="none"/>
<circle cx="133.80" cy="1069.30" r="2.50" fill="#e41414"/>
<circle cx="209.10" cy="1148.40" r="2.50" fill="#e41414"/>
<circle cx="304.10" cy="1158.60" r="2.50" fill="#e41414"/>
<path d="M395.70,1173.90H402.10M398.90,1173.90V1185.30M395.70,1185.30H402.10" stroke="#dc3a3a" stroke-width="1.2" fill="none"/>
<circle cx="398.90" cy="1179.80" r="2.50" fill="#e41414"/>
<path d="M490.90,1182.20H497.30M494.10,1182.20V1193.70M490.90,1193.70H497.30" stroke="#dc3a3a" stroke-width="1.2" fill="none"/>
<circle cx="494.10" cy="1187.70" r="2.50" fill="#e41414"/>
<polyline points="133.8,1171.2 209.1,1153.0 304.1,1165.3 398.9,1164.8 494.1,1160.0" stroke="#3030c8" stroke-width="1.05" fill="none"/>
<path d="M130.60,1148.20H137.00M133.80,1148.20V1193.80M130.60,1193.80H137.00" stroke="#3030c8" stroke-width="1.2" fill="none"/>
<path d="M133.80,1168.04L137.11,1173.64L130.49,1173.64Z" fill="#1c1ce0"/>
<path d="M209.10,1149.84L212.41,1155.44L205.79,1155.44Z" fill="#1c1ce0"/>
<path d="M304.10,1162.14L307.41,1167.74L300.79,1167.74Z" fill="#1c1ce0"/>
<path d="M395.70,1161.20H402.10M398.90,1161.20V1167.90M395.70,1167.90H402.10" stroke="#3030c8" stroke-width="1.2" fill="none"/>
<path d="M398.90,1161.64L402.21,1167.24L395.59,1167.24Z" fill="#1c1ce0"/>
<path d="M494.10,1156.84L497.41,1162.44L490.79,1162.44Z" fill="#1c1ce0"/>
<polyline points="133.8,857.5 209.1,860.9 304.1,866.8 398.9,873.8 494.1,879.4" stroke="#c032c4" stroke-width="1.05" fill="none"/>
<path d="M133.80,860.66L137.11,855.06L130.49,855.06Z" fill="#e010e0"/>
<path d="M209.10,864.06L212.41,858.46L205.79,858.46Z" fill="#e010e0"/>
<path d="M304.10,869.96L307.41,864.36L300.79,864.36Z" fill="#e010e0"/>
<path d="M398.90,876.96L402.21,871.36L395.59,871.36Z" fill="#e010e0"/>
<path d="M490.90,876.50H497.30M494.10,876.50V882.30M490.90,882.30H497.30" stroke="#c032c4" stroke-width="1.2" fill="none"/>
<path d="M494.10,882.56L497.41,876.96L490.79,876.96Z" fill="#e010e0"/>
<polyline points="133.8,1113.0 209.1,1055.4 304.1,1040.9 398.9,1026.9 494.1,1029.3" stroke="#1a1a1a" stroke-width="1.05" fill="none"/>
<path d="M130.60,1110.00H137.00M133.80,1110.00V1116.00M130.60,1116.00H137.00" stroke="#1a1a1a" stroke-width="1.2" fill="none"/>
<rect x="131.30" y="1110.50" width="5.00" height="5.00" fill="#111"/>
<path d="M205.90,1053.00H212.30M209.10,1053.00V1058.00M205.90,1058.00H212.30" stroke="#1a1a1a" stroke-width="1.2" fill="none"/>
<rect x="206.60" y="1052.90" width="5.00" height="5.00" fill="#111"/>
<rect x="301.60" y="1038.40" width="5.00" height="5.00" fill="#111"/>
<path d="M395.70,1022.60H402.10M398.90,1022.60V1032.20M395.70,1032.20H402.10" stroke="#1a1a1a" stroke-width="1.2" fill="none"/>
<rect x="396.40" y="1024.40" width="5.00" height="5.00" fill="#111"/>
<path d="M490.90,1024.50H497.30M494.10,1024.50V1035.30M490.90,1035.30H497.30" stroke="#1a1a1a" stroke-width="1.2" fill="none"/>
<rect x="491.60" y="1026.80" width="5.00" height="5.00" fill="#111"/>
<path d="M109.8,903.1H151.4" stroke="#1a1a1a" stroke-width="1.3"/>
<rect x="128.60" y="900.90" width="4.40" height="4.40" fill="#111"/>
<text x="158.3" y="908.8" class="lg" textLength="56.6" lengthAdjust="spacingAndGlyphs">Peak 1</text>
<path d="M109.8,926.4H151.4" stroke="#dc3a3a" stroke-width="1.3"/>
<circle cx="130.80" cy="926.40" r="2.20" fill="#e41414"/>
<text x="158.3" y="932.1" class="lg" textLength="56.6" lengthAdjust="spacingAndGlyphs">Peak 2</text>
<path d="M109.8,949.7H151.4" stroke="#3030c8" stroke-width="1.3"/>
<path d="M130.80,946.92L133.71,951.85L127.89,951.85Z" fill="#1c1ce0"/>
<text x="158.3" y="955.4" class="lg" textLength="56.6" lengthAdjust="spacingAndGlyphs">Peak 3</text>
<path d="M109.8,973.0H151.4" stroke="#c032c4" stroke-width="1.3"/>
<path d="M130.80,975.78L133.71,970.85L127.89,970.85Z" fill="#e010e0"/>
<text x="158.3" y="978.7" class="lg" textLength="99.2" lengthAdjust="spacingAndGlyphs">Sum Avg. V</text>
</svg>
</body></html>
